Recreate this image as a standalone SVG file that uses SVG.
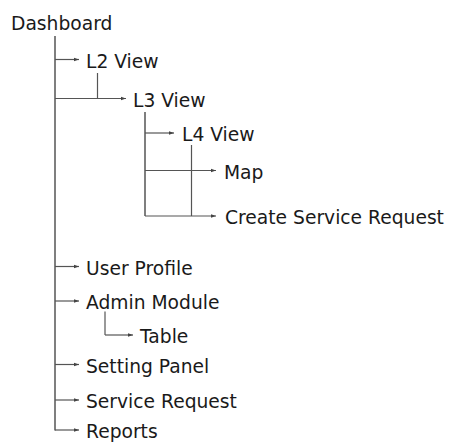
<svg xmlns="http://www.w3.org/2000/svg" width="452" height="442" viewBox="0 0 452 442">
  <style>
    .lbl { font-family: "DejaVu Sans", Verdana, sans-serif; font-size: 18.7px; fill: #1a1a1a; }
    .ln { stroke: #555; stroke-width: 1.2; fill: none; }
    .arr { stroke: #555; stroke-width: 1.2; fill: none; marker-end: url(#tip); }
  </style>
  <defs>
    <marker id="tip" markerUnits="userSpaceOnUse" markerWidth="6" markerHeight="6" refX="5" refY="3" orient="auto">
      <path d="M0,1.2 L5,3 L0,4.8 Z" fill="#444"/>
    </marker>
  </defs>
  <rect width="452" height="442" fill="#fff"/>

  <!-- tree connectors -->
  <g id="connectors">
    <line class="ln" x1="55" y1="36" x2="55" y2="430.5" style="stroke-width:1.5"/>
    <path class="arr" d="M55,59.5 H79"/>
    <line class="ln" x1="97.5" y1="73" x2="97.5" y2="98.5"/>
    <path class="arr" d="M55,98.5 H126"/>
    <line class="ln" x1="145" y1="112" x2="145" y2="216" style="stroke-width:1.5"/>
    <path class="arr" d="M145,133 H174"/>
    <line class="ln" x1="191.5" y1="145" x2="191.5" y2="216"/>
    <path class="arr" d="M145,170.5 H216"/>
    <path class="arr" d="M145,216 H216"/>
    <path class="arr" d="M55,266.5 H79"/>
    <path class="arr" d="M55,301 H79"/>
    <line class="ln" x1="105" y1="311.5" x2="105" y2="335"/>
    <path class="arr" d="M105,335 H133"/>
    <path class="arr" d="M55,364.5 H79"/>
    <path class="arr" d="M55,400 H79"/>
    <path class="arr" d="M55,430 H79"/>
  </g>

  <!-- nodes -->
  <g id="dashboard"><text class="lbl" x="11" y="29.5">Dashboard</text></g>
  <g id="l2-view"><text class="lbl" x="86" y="67.5">L2 View</text></g>
  <g id="l3-view"><text class="lbl" x="133" y="106.5">L3 View</text></g>
  <g id="l4-view"><text class="lbl" x="182" y="141">L4 View</text></g>
  <g id="map"><text class="lbl" x="224" y="178.5">Map</text></g>
  <g id="create-service-request"><text class="lbl" x="225" y="224">Create Service Request</text></g>
  <g id="user-profile"><text class="lbl" x="86" y="274.5">User Profile</text></g>
  <g id="admin-module"><text class="lbl" x="86" y="309">Admin Module</text></g>
  <g id="table"><text class="lbl" x="140" y="343">Table</text></g>
  <g id="setting-panel"><text class="lbl" x="86" y="372.5">Setting Panel</text></g>
  <g id="service-request"><text class="lbl" x="86" y="408">Service Request</text></g>
  <g id="reports"><text class="lbl" x="86" y="438">Reports</text></g>
</svg>
